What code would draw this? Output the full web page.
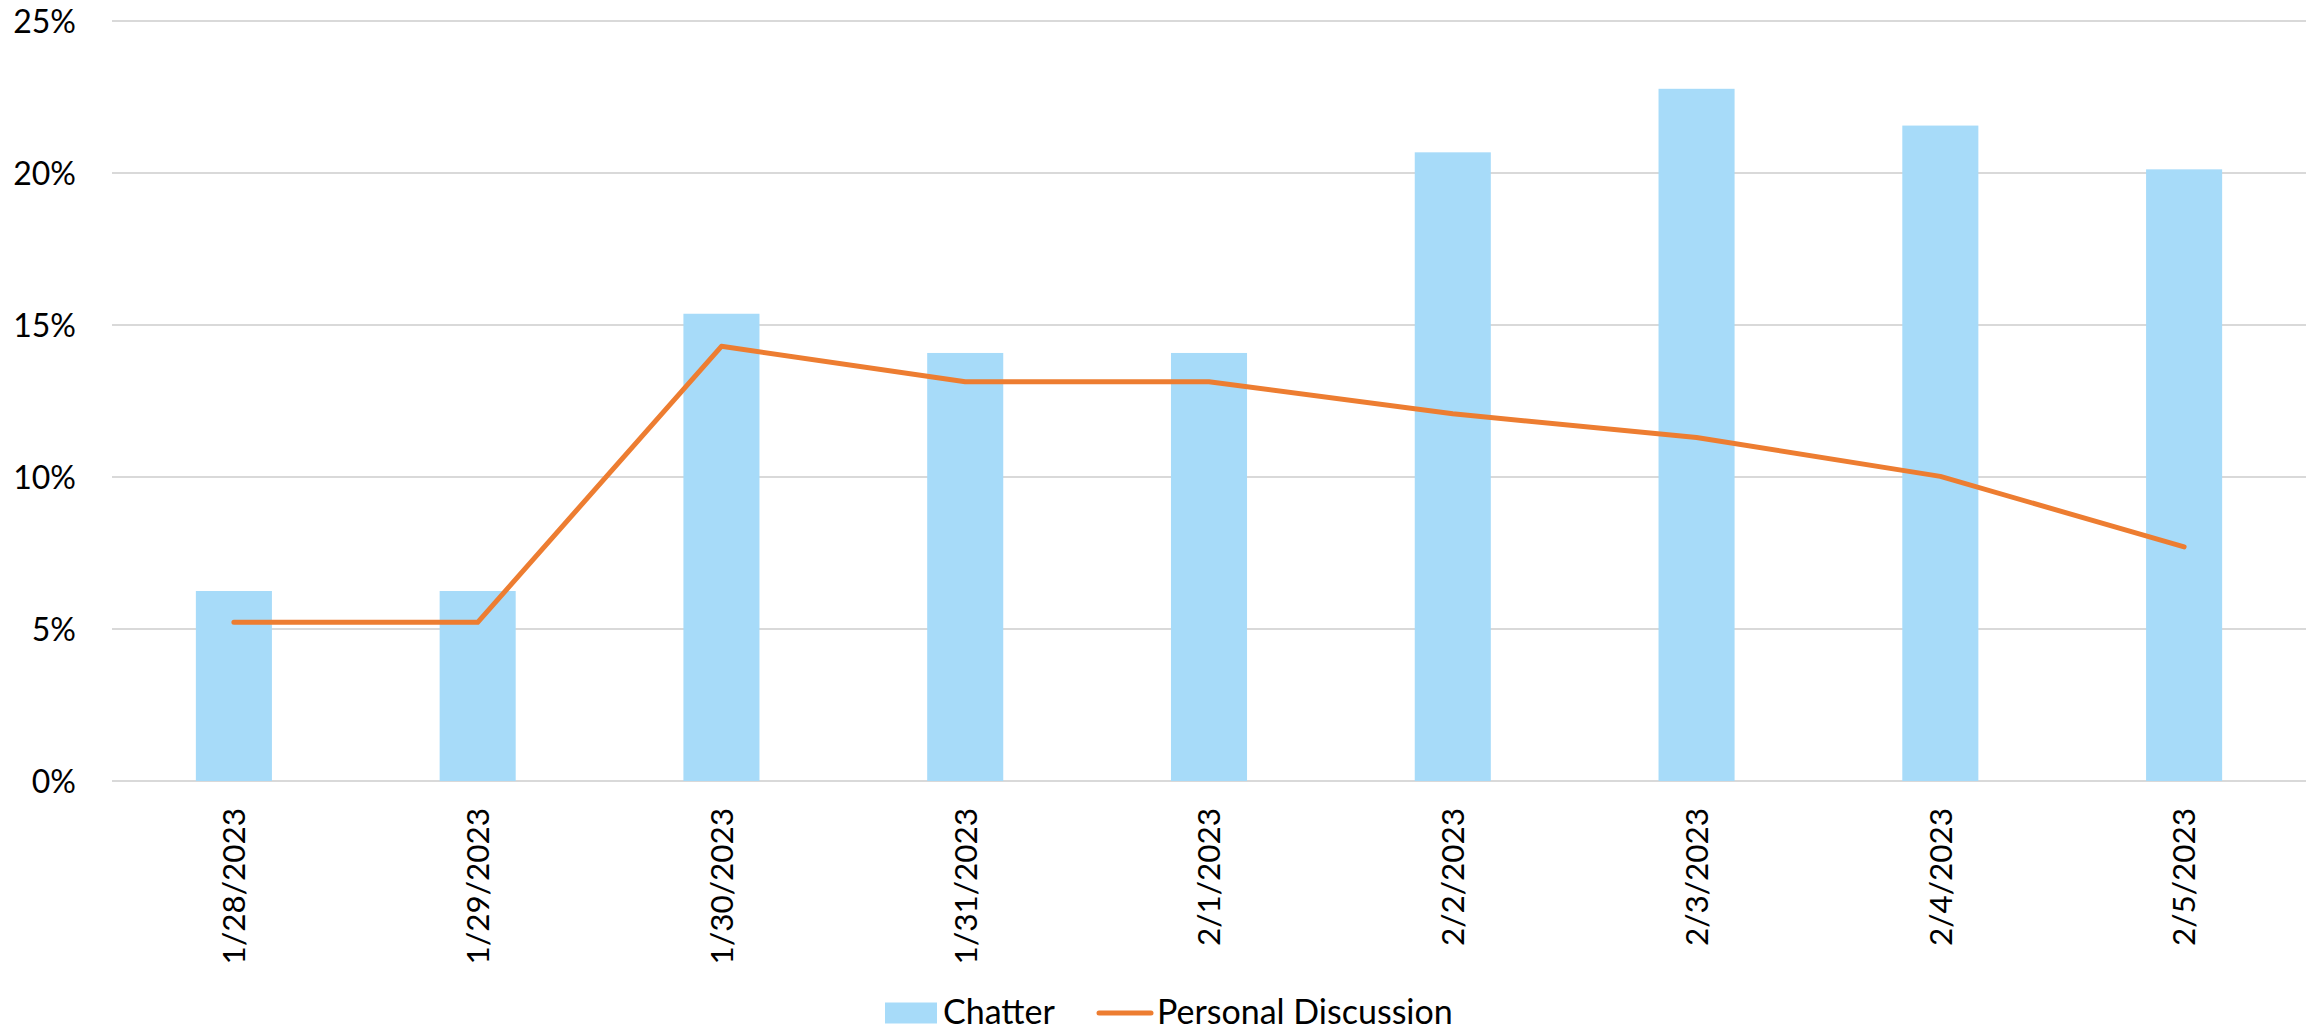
<!DOCTYPE html>
<html>
<head>
<meta charset="utf-8">
<script src="https://cdn.jsdelivr.net/npm/d3@7"></script>
<style>
  body { margin: 0; background: #fff; }
  #chart { width: 2318px; height: 1029px; }
  text { font-family: Lato, "Open Sans", sans-serif; fill: #000; }
</style>
</head>
<body>
<div id="chart"></div>
<script>
const dates = ["1/28/2023", "1/29/2023", "1/30/2023", "1/31/2023", "2/1/2023",
  "2/2/2023", "2/3/2023", "2/4/2023", "2/5/2023"];
const chatter = [6.25, 6.25, 15.37, 14.08, 14.08, 20.68, 22.77, 21.56, 20.12];
const personalDiscussion = [5.22, 5.22, 14.3, 13.13, 13.13, 12.08, 11.3, 10.02, 7.7];
const yTicks = [0, 5, 10, 15, 20, 25];

const width = 2318;
const height = 1029;
const margin = { top: 21, right: 12, bottom: 248, left: 112 };

const svg = d3
  .select("#chart")
  .append("svg")
  .attr("width", width)
  .attr("height", height);

const x = d3
  .scaleBand()
  .domain(dates)
  .range([margin.left, width - margin.right])
  .paddingInner(0.688)
  .paddingOuter(0.344);

const y = d3
  .scaleLinear()
  .domain([0, 25])
  .range([height - margin.bottom, margin.top]);

// gridlines
svg
  .append("g")
  .selectAll("line")
  .data(yTicks)
  .join("line")
  .attr("x1", margin.left)
  .attr("x2", width - margin.right)
  .attr("y1", (d) => y(d))
  .attr("y2", (d) => y(d))
  .attr("stroke", "#d9d9d9")
  .attr("stroke-width", 2);

// y labels
svg
  .append("g")
  .selectAll("text")
  .data(yTicks)
  .join("text")
  .attr("x", 76)
  .attr("y", (d) => y(d))
  .attr("dy", "0.36em")
  .attr("text-anchor", "end")
  .style("font-size", "32px")
  .text((d) => d + "%");

// bars
svg
  .append("g")
  .selectAll("rect")
  .data(chatter)
  .join("rect")
  .attr("x", (d, i) => x(dates[i]))
  .attr("y", (d) => y(d))
  .attr("width", x.bandwidth())
  .attr("height", (d) => y(0) - y(d))
  .attr("fill", "#a7dbf9");

// line
const line = d3
  .line()
  .x((d, i) => x(dates[i]) + x.bandwidth() / 2)
  .y((d) => y(d));

svg
  .append("path")
  .datum(personalDiscussion)
  .attr("d", line)
  .attr("fill", "none")
  .attr("stroke", "#ed7d31")
  .attr("stroke-width", 5)
  .attr("stroke-linecap", "round")
  .attr("stroke-linejoin", "round");

// x labels
svg
  .append("g")
  .selectAll("text")
  .data(dates)
  .join("text")
  .attr(
    "transform",
    (d) => `translate(${x(d) + x.bandwidth() / 2},${y(0) + 27}) rotate(-90)`
  )
  .attr("dy", "0.36em")
  .attr("text-anchor", "end")
  .style("font-size", "31.5px")
  .text((d) => d);

// legend
const legend = svg.append("g").attr("transform", "translate(0,1012)");

legend
  .append("rect")
  .attr("x", 885)
  .attr("y", -9.5)
  .attr("width", 52)
  .attr("height", 21)
  .attr("fill", "#a7dbf9");

legend
  .append("text")
  .attr("x", 943)
  .attr("dy", "0.34em")
  .style("font-size", "34px")
  .text("Chatter");

legend
  .append("line")
  .attr("x1", 1099)
  .attr("x2", 1151)
  .attr("y1", 1)
  .attr("y2", 1)
  .attr("stroke", "#ed7d31")
  .attr("stroke-width", 5)
  .attr("stroke-linecap", "round");

legend
  .append("text")
  .attr("x", 1157)
  .attr("dy", "0.34em")
  .style("font-size", "34px")
  .text("Personal Discussion");
</script>
</body>
</html>
